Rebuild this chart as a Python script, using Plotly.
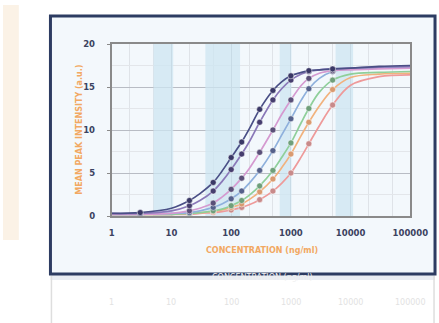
import math
import plotly.graph_objects as go

# ---- data ----
conc = [1, 3, 10, 20, 30, 50, 70, 100, 150, 200, 300, 500, 700, 1000,
        1500, 2000, 3000, 5000, 10000, 30000, 100000]
s_navy = [0.3, 0.4, 0.9, 1.8, 2.6, 3.9, 5.2, 6.8, 8.6, 10.1, 12.4, 14.6, 15.6, 16.3,
          16.7, 16.9, 17.0, 17.1, 17.2, 17.4, 17.5]
s_purple = [0.3, 0.3, 0.6, 1.2, 1.8, 2.9, 4.0, 5.4, 7.2, 8.6, 10.9, 13.5, 14.8, 15.8,
            16.5, 16.8, 17.0, 17.1, 17.2, 17.3, 17.4]
s_magenta = [0.2, 0.2, 0.3, 0.6, 0.9, 1.5, 2.2, 3.1, 4.4, 5.5, 7.4, 10.0, 11.8, 13.5,
             15.2, 16.0, 16.6, 16.9, 17.0, 17.1, 17.2]
s_blue = [0.2, 0.2, 0.3, 0.4, 0.6, 1.0, 1.4, 2.0, 2.9, 3.8, 5.3, 7.6, 9.4, 11.3,
          13.5, 14.8, 16.0, 16.8, 17.1, 17.2, 17.3]
s_green = [0.2, 0.2, 0.2, 0.3, 0.4, 0.6, 0.8, 1.2, 1.8, 2.4, 3.5, 5.3, 6.8, 8.5,
           10.9, 12.5, 14.4, 15.8, 16.5, 16.7, 16.8]
s_orange = [0.2, 0.2, 0.2, 0.3, 0.4, 0.5, 0.7, 1.0, 1.4, 1.9, 2.8, 4.3, 5.6, 7.2,
            9.4, 10.9, 12.8, 14.7, 16.1, 16.5, 16.6]
s_pink = [0.2, 0.2, 0.2, 0.2, 0.3, 0.4, 0.5, 0.7, 1.0, 1.3, 1.9, 2.9, 3.8, 5.0,
          6.9, 8.4, 10.5, 12.9, 15.2, 16.2, 16.4]
marker_conc = [3, 20, 50, 100, 150, 300, 500, 1000, 2000, 5000]

x_tickvals = [1, 10, 100, 1000, 10000, 100000]
x_ticktext = ["1", "10", "100", "1000", "10000", "100000"]
y_tickvals = [0, 5, 10, 15, 20]
bands = [(5, 10.7), (37, 141), (650, 1020), (5600, 11000)]

series = [
    (s_pink, "#ee9a9a", "#c88a8a"),
    (s_orange, "#f1b27e", "#d99a70"),
    (s_green, "#8fcf9a", "#6f9f7a"),
    (s_blue, "#8fb0dc", "#55608a"),
    (s_magenta, "#d59ad0", "#5a4f78"),
    (s_purple, "#8a78b8", "#463d6e"),
    (s_navy, "#4a4f86", "#3a3866"),
]

fig = go.Figure()

for a, b in bands:
    fig.add_trace(go.Scatter(x=[a, b, b, a, a], y=[0, 0, 20, 20, 0], mode="lines",
                             fill="toself", fillcolor="rgba(205,230,242,0.75)",
                             line=dict(width=0), hoverinfo="skip", showlegend=False))

for vals, lc, mc in series:
    fig.add_trace(go.Scatter(x=conc, y=vals, mode="lines",
                             line=dict(color=lc, width=1.7, shape="spline"),
                             hoverinfo="skip", showlegend=False))
    mx = [c for c in conc if c in marker_conc]
    my = [v for c, v in zip(conc, vals) if c in marker_conc]
    fig.add_trace(go.Scatter(x=mx, y=my, mode="markers",
                             marker=dict(color=mc, size=6, line=dict(width=0.5, color="#ffffff")),
                             hoverinfo="skip", showlegend=False))

# the captured page is shown at ~0.97 scale, so the figure is sized up to fill it
TW, TH = 439, 323
W, H = 455, 333
def px(x):
    return x / TW
def py(y):
    return (TH - y) / TH

shapes = [
    dict(type="rect", xref="paper", yref="paper", x0=0, x1=px(16), y0=py(235), y1=1,
         fillcolor="#fbf2e6", line=dict(width=0), layer="below"),
    dict(type="rect", xref="paper", yref="paper", x0=px(48), x1=px(437), y0=py(275), y1=py(269),
         fillcolor="#e9edf3", line=dict(width=0), layer="below"),
    dict(type="rect", xref="paper", yref="paper", x0=px(48), x1=px(437), y0=py(269), y1=py(11),
         fillcolor="#f3f8fc", line=dict(color="#2d3c62", width=3), layer="below"),
    dict(type="line", xref="paper", yref="paper", x0=px(49), x1=px(49), y0=0, y1=py(271),
         line=dict(color="#dedede", width=1.5)),
    dict(type="line", xref="paper", yref="paper", x0=px(436), x1=px(436), y0=0, y1=py(271),
         line=dict(color="#dedede", width=1.5)),
]

annotations = [
    dict(text="MEAN PEAK INTENSITY (a.u.)", xref="paper", yref="paper", x=px(70), y=py(125),
         textangle=-90, showarrow=False,
         font=dict(family="DejaVu Sans", size=8, color="#f2a862", weight="bold")),
    dict(text="CONCENTRATION (ng/ml)", xref="paper", yref="paper", x=px(262), y=py(252),
         showarrow=False, font=dict(family="DejaVu Sans", size=8, color="#f2a862", weight="bold")),
    dict(text="CONCENTRATION (ng/ml)", xref="paper", yref="paper", x=px(262), y=py(279),
         showarrow=False, font=dict(family="DejaVu Sans", size=8, color="#f0f0f0")),
]
for v, t in zip(x_tickvals, x_ticktext):
    annotations.append(dict(text=t, xref="x", yref="paper", x=math.log10(v), y=py(304),
                            showarrow=False, font=dict(family="DejaVu Sans", size=8, color="#e2e2e2")))

fig.update_layout(
    width=W, height=H,
    margin=dict(l=0, r=0, t=0, b=0),
    paper_bgcolor="#ffffff",
    plot_bgcolor="#fbfdff",
    shapes=shapes,
    annotations=annotations,
    hovermode=False,
    xaxis=dict(type="log", range=[0, 5], domain=[px(110), px(412)],
               tickvals=x_tickvals, ticktext=x_ticktext,
               tickfont=dict(family="DejaVu Sans", size=8.5, color="#3b4260", weight="bold"),
               showline=True, mirror=True, linecolor="#8a8a8a", linewidth=2,
               showgrid=True, gridcolor="#b8bcc4", gridwidth=1,
               minor=dict(showgrid=True, gridcolor="#dfe3e8", gridwidth=1, ticks=""),
               ticks="", zeroline=False, ticklabelstandoff=8),
    yaxis=dict(range=[0, 20], domain=[py(211), py(39)],
               tickvals=y_tickvals,
               tickfont=dict(family="DejaVu Sans", size=8.5, color="#3b4260", weight="bold"),
               showline=True, mirror=True, linecolor="#8a8a8a", linewidth=2,
               showgrid=True, gridcolor="#b8bcc4", gridwidth=1,
               minor=dict(dtick=2.5, showgrid=True, gridcolor="#e3e6ea", gridwidth=1),
               ticks="outside", ticklen=3, tickcolor="#8a8a8a", zeroline=False,
               ticklabelstandoff=10),
)

fig.write_html("out.html", config={"displayModeBar": False},
               post_script="document.body.style.margin='0';document.body.style.overflow='hidden';")
